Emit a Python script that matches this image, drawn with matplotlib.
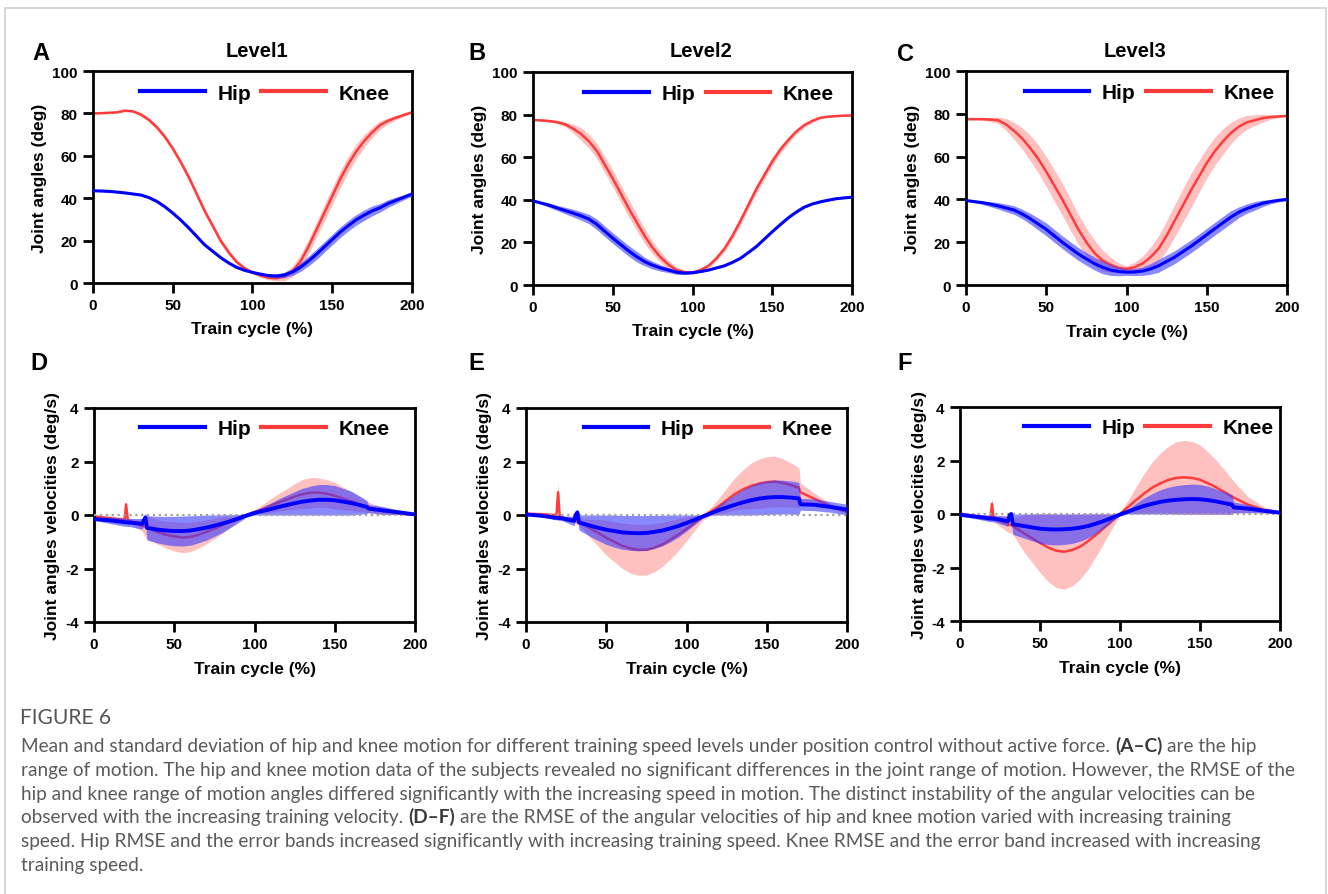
import numpy as np
import matplotlib.pyplot as plt
from matplotlib.lines import Line2D
from matplotlib.patches import Rectangle

plt.rcParams['font.family'] = 'Liberation Sans'
plt.rcParams['axes.unicode_minus'] = False

W, H = 1328, 895

# ---- joint angles (deg), x every 5 % ----
x_ang = list(range(0, 201, 5))

knee_a1 = [80, 80.1, 80.3, 80.5, 81.3, 81, 79.5, 77, 73.5, 69, 63.5, 57, 50, 42, 34, 27, 20, 14.5, 10, 7, 5,
           3.5, 2.5, 2.2, 3, 5.5, 10, 17, 25, 33, 41, 49, 56, 62, 67, 71, 74.5, 76.5, 78, 79.3, 80.5]
knee_a1_sd = [0.3, 0.3, 0.3, 0.4, 0.5, 0.5, 0.8, 1, 1, 1.2, 1.2, 1.4, 1.5, 1.5, 1.5, 1.5, 1.5, 1.3, 1, 0.8, 0.8,
              0.8, 1, 1.2, 2, 2.5, 3, 3.5, 3.5, 4, 4, 4, 3.8, 3.5, 3, 2.5, 2, 1.5, 1, 0.7, 0.5]
hip_a1 = [43.5, 43.4, 43.2, 42.9, 42.5, 42, 41.5, 40.3, 38.5, 36, 33, 29.7, 26, 22, 18, 15, 12, 9.5, 7.4, 6, 5,
          4.2, 3.5, 3.3, 3.8, 5.2, 7.4, 10.3, 13.5, 17, 20.5, 24, 27, 29.8, 32, 34, 35.5, 37.5, 39, 40.5, 42]
hip_a1_sd = [0.3, 0.3, 0.3, 0.3, 0.3, 0.3, 0.3, 0.4, 0.4, 0.5, 0.5, 0.5, 0.5, 0.5, 0.5, 0.5, 0.5, 0.5, 0.5, 0.5, 0.5,
             0.6, 0.7, 0.9, 1.2, 1.6, 2, 2.3, 2.5, 2.5, 2.5, 2.5, 2.5, 2.5, 2.5, 2.3, 2, 1.8, 1.5, 1.2, 1]

knee_a2 = [77.5, 77.3, 77, 76.5, 75.5, 73.5, 71, 67.5, 63, 56.5, 50, 43, 36, 29.5, 23, 17.5, 13, 9.5, 7, 6, 5.8,
           7, 9, 12.5, 17, 23, 30, 37.5, 45, 51.5, 58, 63.5, 68, 72, 75, 77, 78.5, 79, 79.3, 79.5, 79.6]
knee_a2_sd = [0.3, 0.4, 0.5, 0.8, 1, 2, 3, 3.2, 3.5, 3.8, 4, 4, 4, 3.8, 3.5, 3, 2.5, 2, 1.5, 1, 0.8,
              0.8, 1, 1.2, 1.5, 1.8, 2, 2, 2, 2, 2, 1.8, 1.5, 1.2, 1, 0.8, 0.5, 0.3, 0.3, 0.3, 0.3]
hip_a2 = [39.5, 38.5, 37.5, 36.2, 35, 33.8, 32.5, 31, 28.5, 25.2, 22, 19, 16, 13.3, 11, 9.3, 8, 7, 6, 5.6, 5.8,
          6.3, 7, 8, 9, 10.6, 12.5, 15.2, 18, 21.5, 25, 28.3, 31.5, 34.2, 36.5, 38, 39, 39.8, 40.5, 40.9, 41.2]
hip_a2_sd = [0.3, 0.6, 1, 1.2, 1.5, 1.8, 2, 2.2, 2.5, 2.5, 2.5, 2.5, 2.5, 2.5, 2, 1.8, 1.5, 1.2, 1, 0.7, 0.5,
             0.4, 0.3, 0.3, 0.3, 0.3, 0.3, 0.3, 0.3, 0.3, 0.3, 0.3, 0.3, 0.3, 0.3, 0.3, 0.3, 0.3, 0.3, 0.3, 0.3]

knee_a3 = [77.5, 77.5, 77.5, 77.3, 77, 75, 72, 68.5, 64, 59, 53, 46.5, 40, 33, 26, 20, 15, 11.5, 9.5, 8, 7.5,
           8.3, 10, 13, 17, 23, 30, 37, 44, 50.5, 57, 62.5, 67, 71, 74, 76, 77, 78, 78.5, 78.8, 79]
knee_a3_sd = [0.3, 0.3, 0.5, 1, 1.5, 2.8, 4, 5, 6, 6.5, 7, 7.3, 7.5, 7.3, 7, 6.5, 6, 5, 3.5, 2.2, 1.5,
              2.3, 3.5, 4.8, 6, 7, 7.5, 7.8, 8, 7.5, 7, 6.5, 6, 5, 4, 3.2, 2.5, 1.8, 1, 0.6, 0.3]
hip_a3 = [39.5, 39, 38.5, 37.8, 37, 36, 35, 33.2, 31, 28.5, 26, 23, 20, 17.2, 14.5, 12.2, 10, 8.3, 7, 6.3, 6,
          6.1, 6.5, 7.5, 9, 11, 13, 15.5, 18, 20.7, 23.5, 26.3, 29, 31.7, 34, 35.7, 37, 38.2, 39, 39.6, 40]
hip_a3_sd = [0.3, 0.5, 0.8, 1.2, 1.5, 1.8, 2, 2.2, 2.5, 2.8, 3, 3, 3, 3, 3, 3, 3, 3, 2.5, 2, 1.5,
             1.7, 2, 2.5, 3, 3, 3, 3, 3, 3, 3, 3, 3, 3, 2.5, 2.2, 2, 1.5, 1, 0.7, 0.5]

# ---- joint angle velocities (deg/s) ----
x_vel = [0, 10, 18, 19, 20, 21, 22, 30, 31, 32, 33, 40, 45, 50, 55, 60, 65, 70, 75, 80, 85, 90, 95, 100,
         105, 110, 115, 120, 125, 130, 135, 140, 145, 150, 155, 160, 165, 170, 171, 180, 190, 200]

knee_v1 = [-0.05, -0.12, -0.18, -0.2, 0.4, -0.2, -0.22, -0.4, -0.42, -0.44, -0.47, -0.65, -0.74, -0.8, -0.84,
           -0.82, -0.74, -0.63, -0.51, -0.38, -0.25, -0.12, 0.0, 0.1, 0.22, 0.35, 0.47, 0.58, 0.69, 0.78,
           0.83, 0.84, 0.8, 0.72, 0.62, 0.52, 0.41, 0.3, 0.28, 0.15, 0.06, 0.0]
knee_v1_sd = [0.05, 0.08, 0.1, 0.1, 0.1, 0.25, 0.1, 0.2, 0.3, 0.4, 0.45, 0.45, 0.5, 0.55, 0.57,
              0.55, 0.5, 0.45, 0.38, 0.3, 0.2, 0.1, 0.08, 0.1, 0.17, 0.25, 0.33, 0.4, 0.48, 0.55,
              0.57, 0.55, 0.52, 0.5, 0.43, 0.35, 0.28, 0.2, 0.2, 0.12, 0.05, 0.02]
hip_v1 = [-0.15, -0.2, -0.26, -0.27, -0.27, -0.28, -0.28, -0.33, -0.2, -0.1, -0.48, -0.55, -0.58, -0.6, -0.6,
          -0.58, -0.53, -0.47, -0.4, -0.32, -0.23, -0.13, -0.02, 0.08, 0.15, 0.22, 0.3, 0.37, 0.44, 0.5,
          0.54, 0.57, 0.57, 0.55, 0.5, 0.45, 0.38, 0.3, 0.24, 0.17, 0.1, 0.02]
hip_v1_sd = [0.05, 0.12, 0.15, 0.15, 0.15, 0.15, 0.15, 0.2, 0.2, 0.15, 0.45, 0.5, 0.53, 0.55, 0.56,
             0.55, 0.51, 0.47, 0.4, 0.33, 0.24, 0.15, 0.06, 0.08, 0.15, 0.22, 0.3, 0.37, 0.44, 0.5,
             0.54, 0.57, 0.57, 0.55, 0.5, 0.45, 0.35, 0.25, 0.15, 0.15, 0.08, 0.02]

knee_v2 = [0.05, 0.03, 0.0, 0.0, 0.85, -0.05, -0.08, -0.2, -0.22, -0.24, -0.26, -0.5, -0.67, -0.85, -1.0,
           -1.15, -1.25, -1.3, -1.3, -1.22, -1.1, -0.92, -0.73, -0.52, -0.3, -0.08, 0.12, 0.32, 0.55, 0.78,
           0.95, 1.08, 1.17, 1.23, 1.25, 1.2, 1.12, 1.02, 0.85, 0.6, 0.32, 0.12]
knee_v2_sd = [0.03, 0.03, 0.03, 0.05, 0.4, 0.1, 0.05, 0.1, 0.12, 0.12, 0.12, 0.35, 0.5, 0.65, 0.75,
              0.85, 0.92, 0.95, 0.95, 0.9, 0.82, 0.72, 0.6, 0.45, 0.28, 0.12, 0.15, 0.3, 0.45, 0.6,
              0.73, 0.85, 0.92, 0.95, 0.95, 0.9, 0.83, 0.75, 0.35, 0.2, 0.1, 0.05]
hip_v2 = [0.02, -0.03, -0.1, -0.1, -0.11, -0.12, -0.12, -0.22, 0.0, 0.1, -0.28, -0.4, -0.48, -0.55, -0.6,
          -0.65, -0.67, -0.68, -0.67, -0.63, -0.58, -0.5, -0.41, -0.3, -0.18, -0.06, 0.06, 0.18, 0.28, 0.38,
          0.47, 0.55, 0.61, 0.65, 0.67, 0.67, 0.65, 0.62, 0.4, 0.38, 0.3, 0.2]
hip_v2_sd = [0.02, 0.03, 0.08, 0.08, 0.08, 0.08, 0.08, 0.18, 0.1, 0.1, 0.28, 0.4, 0.48, 0.55, 0.6,
             0.63, 0.65, 0.66, 0.65, 0.62, 0.57, 0.5, 0.41, 0.3, 0.18, 0.06, 0.06, 0.18, 0.28, 0.38,
             0.47, 0.55, 0.6, 0.63, 0.64, 0.63, 0.62, 0.6, 0.22, 0.22, 0.2, 0.2]

knee_v3 = [0.02, -0.08, -0.14, -0.15, 0.38, -0.17, -0.18, -0.38, -0.4, -0.42, -0.45, -0.72, -0.9, -1.08, -1.25,
           -1.37, -1.41, -1.35, -1.22, -1.02, -0.78, -0.52, -0.26, 0.0, 0.26, 0.52, 0.76, 0.98, 1.14, 1.27,
           1.35, 1.37, 1.35, 1.28, 1.15, 1.0, 0.83, 0.65, 0.62, 0.35, 0.15, 0.05]
knee_v3_sd = [0.03, 0.08, 0.1, 0.1, 0.25, 0.15, 0.15, 0.3, 0.3, 0.3, 0.3, 0.7, 0.9, 1.1, 1.27,
              1.38, 1.4, 1.35, 1.22, 1.05, 0.8, 0.55, 0.28, 0.05, 0.25, 0.5, 0.75, 0.95, 1.12, 1.25,
              1.35, 1.38, 1.36, 1.3, 1.17, 1.02, 0.84, 0.65, 0.6, 0.3, 0.12, 0.05]
hip_v3 = [-0.03, -0.1, -0.16, -0.17, -0.17, -0.18, -0.18, -0.27, -0.05, 0.0, -0.38, -0.45, -0.5, -0.55, -0.57,
          -0.58, -0.57, -0.55, -0.51, -0.45, -0.36, -0.26, -0.14, -0.02, 0.09, 0.2, 0.3, 0.38, 0.45, 0.5,
          0.53, 0.55, 0.56, 0.55, 0.52, 0.47, 0.41, 0.35, 0.25, 0.2, 0.12, 0.05]
hip_v3_sd = [0.03, 0.08, 0.12, 0.12, 0.12, 0.12, 0.12, 0.2, 0.1, 0.1, 0.38, 0.45, 0.5, 0.55, 0.57,
             0.58, 0.57, 0.55, 0.51, 0.45, 0.36, 0.26, 0.14, 0.03, 0.09, 0.2, 0.3, 0.38, 0.45, 0.5,
             0.53, 0.55, 0.56, 0.55, 0.52, 0.47, 0.42, 0.37, 0.2, 0.15, 0.08, 0.03]

levels = ['Level1', 'Level2', 'Level3']
letters_top = ['A', 'B', 'C']
letters_bot = ['D', 'E', 'F']
x_ticks = [0, 50, 100, 150, 200]

caption_title = 'FIGURE 6'
caption_lines = [
    [('Mean and standard deviation of hip and knee motion for different training speed levels under position control without active force. ', False),
     ('(A\u2013C)', True), (' are the hip', False)],
    [('range of motion. The hip and knee motion data of the subjects revealed no significant differences in the joint range of motion. However, the RMSE of the', False)],
    [('hip and knee range of motion angles differed significantly with the increasing speed in motion. The distinct instability of the angular velocities can be', False)],
    [('observed with the increasing training velocity. ', False), ('(D\u2013F)', True),
     (' are the RMSE of the angular velocities of hip and knee motion varied with increasing training', False)],
    [('speed. Hip RMSE and the error bands increased significantly with increasing training speed. Knee RMSE and the error band increased with increasing', False)],
    [('training speed.', False)],
]

RED = '#ff3b3b'
PINK = '#ffc0c0'
BLUE = '#0000ff'
BLUE_FILL = '#3a3aff'

fig = plt.figure(figsize=(W / 100, H / 100), dpi=100)


def add_ax(l, r, t, b):
    return fig.add_axes([l / W, 1 - b / H, (r - l) / W, (b - t) / H])


def style(ax, ylab, ylab_x, leg_x, leg_y):
    for s in ax.spines.values():
        s.set_linewidth(2)
    ax.tick_params(direction='out', length=7, width=2, labelsize=11, pad=4)
    for lab in ax.get_xticklabels() + ax.get_yticklabels():
        lab.set_fontweight('bold')
    ax.set_xlim(0, 200)
    ax.set_xticks(x_ticks)
    ax.set_xlabel('Train cycle (%)', fontsize=12.5, fontweight='bold')
    ax.xaxis.set_label_coords(0.5, -0.18)
    ax.set_ylabel(ylab, fontsize=12.5, fontweight='bold')
    ax.yaxis.set_label_coords(ylab_x, 0.5)
    handles = [Line2D([], [], color=BLUE, lw=3), Line2D([], [], color=RED, lw=3)]
    ax.legend(handles, ['Hip', 'Knee'], ncol=2, loc='center', bbox_to_anchor=(leg_x, leg_y),
              frameon=False, handlelength=3.1, handletextpad=0.6, columnspacing=0.5,
              prop=dict(weight='bold', size=15))


def draw(ax, x, knee, knee_sd, hip, hip_sd, lw_hip):
    k, ks = np.array(knee), np.array(knee_sd)
    h, hs = np.array(hip), np.array(hip_sd)
    ax.fill_between(x, k - ks, k + ks, color=PINK, lw=0, zorder=1)
    ax.plot(x, k, color=RED, lw=1.8, zorder=2)
    ax.fill_between(x, h - hs, h + hs, color=BLUE_FILL, alpha=0.6, lw=0, zorder=3)
    ax.plot(x, h, color=BLUE, lw=lw_hip, zorder=5)


# top row: joint angles
top_boxes = [(93, 412, 72, 284), (533, 852, 73, 286), (966, 1287, 72, 286)]
top_ylab_x = [-0.144, -0.144, -0.143]
top_leg = [(0.539, 0.896), (0.552, 0.9), (0.572, 0.9)]
ang_data = [(knee_a1, knee_a1_sd, hip_a1, hip_a1_sd),
            (knee_a2, knee_a2_sd, hip_a2, hip_a2_sd),
            (knee_a3, knee_a3_sd, hip_a3, hip_a3_sd)]
for i in range(3):
    ax = add_ax(*top_boxes[i])
    draw(ax, x_ang, *ang_data[i], lw_hip=2.2)
    ax.set_ylim(0, 100)
    ax.set_yticks([0, 20, 40, 60, 80, 100])
    style(ax, 'Joint angles (deg)', top_ylab_x[i], *top_leg[i])

# bottom row: velocities
bot_boxes = [(94, 415, 409, 623), (526, 847, 409, 623), (960, 1280, 408, 622)]
bot_ylab_x = [-0.106, -0.106, -0.103]
bot_leg = [(0.532, 0.904), (0.568, 0.904), (0.59, 0.904)]
vel_data = [(knee_v1, knee_v1_sd, hip_v1, hip_v1_sd),
            (knee_v2, knee_v2_sd, hip_v2, hip_v2_sd),
            (knee_v3, knee_v3_sd, hip_v3, hip_v3_sd)]
for i in range(3):
    ax = add_ax(*bot_boxes[i])
    draw(ax, x_vel, *vel_data[i], lw_hip=2.8)
    ax.axhline(0, color='#a0a0a0', ls=':', lw=1.6, zorder=4)
    ax.set_ylim(-4, 4)
    ax.set_yticks([-4, -2, 0, 2, 4])
    style(ax, 'Joint angles velocities (deg/s)', bot_ylab_x[i], *bot_leg[i])

# panel letters and titles
for (xp, yp), s in zip([(32, 60), (468, 60), (897, 61)], letters_top):
    fig.text(xp / W, 1 - yp / H, s, fontsize=17, fontweight='bold', va='baseline', ha='left')
for (xp, yp), s in zip([(30, 370), (468, 370), (897, 370)], letters_bot):
    fig.text(xp / W, 1 - yp / H, s, fontsize=17, fontweight='bold', va='baseline', ha='left')
for xp, s in zip([257, 701, 1135], levels):
    fig.text(xp / W, 1 - 57 / H, s, fontsize=14.5, fontweight='bold', va='baseline', ha='center')

# frame around the figure
fig.patches.append(Rectangle((5 / W, -0.05), 1321 / W, 1.05 - 9 / H, transform=fig.transFigure,
                             fill=False, edgecolor='#cfcfcf', lw=1.2))

# caption
renderer = fig.canvas.get_renderer()
cap_font = 'Lato'
probe = fig.text(0, 0, caption_lines[1][0][0], fontsize=10, family=cap_font)
w10 = probe.get_window_extent(renderer).width
probe.remove()
cap_size = 10 * 1281 / w10

fig.text(20 / W, 1 - 724 / H, caption_title, fontsize=cap_size * 1.1, family=cap_font,
         color='#555555', va='baseline')


def text_width(s, bold):
    t = fig.text(0, 0, s, fontsize=cap_size, family=cap_font, fontweight='bold' if bold else 'normal')
    w = t.get_window_extent(renderer).width
    t.remove()
    return w


space_w = text_width('a a', False) - text_width('aa', False)
for i, runs in enumerate(caption_lines):
    y = 752 + 23.8 * i
    xp = 21
    for s, bold in runs:
        lead = len(s) - len(s.lstrip(' '))
        xp += lead * space_w
        core = s.strip(' ')
        fig.text(xp / W, 1 - y / H, core, fontsize=cap_size, family=cap_font,
                 fontweight='bold' if bold else 'normal',
                 color='#3a3a3a' if bold else '#5a5a5a', va='baseline')
        xp += text_width(core, bold)
        trail = len(s) - len(s.rstrip(' '))
        xp += trail * space_w

fig.savefig('out.png', dpi=100)
